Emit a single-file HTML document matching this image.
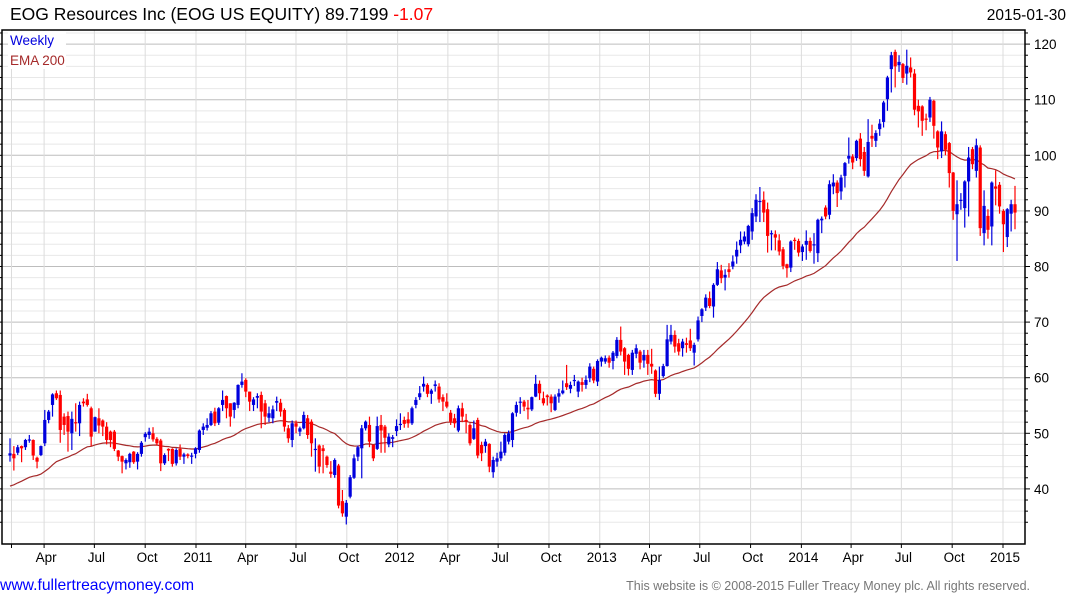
<!DOCTYPE html>
<html><head><meta charset="utf-8"><style>
html,body{margin:0;padding:0;background:#fff;}
svg{display:block;font-family:"Liberation Sans",Arial,sans-serif;}
</style></head><body>
<svg id="chart" width="1075" height="600" viewBox="0 0 1075 600" xmlns="http://www.w3.org/2000/svg">
<rect x="0" y="0" width="1075" height="600" fill="#fff"/>
<g id="grid"></g><g id="ema"></g><g id="candles"></g><g id="axes"></g>
<text x="10" y="20" font-size="17.5" fill="#000">EOG Resources Inc (EOG US EQUITY) 89.7199 <tspan fill="#f00">-1.07</tspan></text>
<text x="1066" y="20" font-size="15.5" text-anchor="end" fill="#000">2015-01-30</text>
<rect x="8" y="31" width="58" height="38" fill="#fff"/>
<text x="10" y="45" font-size="13.5" fill="#0000dd">Weekly</text>
<text x="10" y="65" font-size="13.5" fill="#a52a2a">EMA 200</text>
<text x="0" y="590" font-size="15.7" fill="#0000ff">www.fullertreacymoney.com</text>
<text x="1030" y="590" font-size="12.5" text-anchor="end" fill="#777">This website is © 2008-2015 Fuller Treacy Money plc. All rights reserved.</text>
</svg>
<script>
const opens=[46.0,46.3,46.5,47.7,47.5,48.7,48.8,45.6,46.1,48.2,52.4,55.1,57.2,56.9,53.0,53.1,50.0,52.0,51.8,55.7,56.1,54.5,50.3,52.7,52.3,51.2,50.3,50.3,46.9,45.9,44.6,44.8,46.7,44.9,46.3,49.3,49.7,50.0,49.0,48.7,44.6,47.2,47.2,44.6,47.2,45.8,46.2,45.8,46.3,47.0,
50.6,51.0,51.5,53.9,51.9,55.1,56.7,55.4,54.2,55.1,58.7,59.6,57.5,55.1,56.4,56.9,55.4,52.8,52.7,55.5,55.5,54.2,50.9,48.8,51.8,50.3,50.9,52.7,52.1,47.0,47.8,47.3,45.8,43.1,42.5,44.2,37.8,35.0,38.6,42.0,45.8,47.3,50.9,51.5,47.9,47.2,51.5,51.2,48.0,
49.0,50.4,51.5,52.4,52.5,51.8,55.1,56.5,58.4,58.7,57.1,58.5,58.4,56.5,55.7,53.7,52.7,50.5,54.5,52.4,51.5,49.0,52.4,47.9,47.7,48.1,43.0,44.9,45.5,46.5,48.5,48.8,53.7,55.5,55.7,54.6,54.3,56.6,58.9,56.3,56.8,56.6,54.2,56.6,57.2,59.0,58.0,59.4,57.5,
59.2,58.7,59.9,61.6,59.3,62.9,62.9,63.6,63.0,63.9,66.8,65.3,64.1,61.4,64.3,64.7,63.1,64.1,62.5,61.3,57.1,60.3,62.1,66.5,67.7,66.2,65.3,66.2,66.7,64.5,66.9,71.1,72.6,74.3,72.8,76.7,79.3,78.0,79.5,80.0,81.8,
83.8,84.5,84.0,86.3,89.0,91.6,92.0,90.3,85.8,85.8,84.7,83.1,80.4,79.8,84.8,84.6,82.6,83.9,84.6,84.0,82.4,88.3,90.6,89.3,94.4,95.1,93.5,96.3,99.4,99.8,99.5,103.0,100.6,96.2,103.5,102.6,104.7,106.0,110.1,
115.5,118.6,116.2,116.4,114.7,115.8,114.7,108.9,108.8,106.6,106.8,109.8,104.3,100.7,103.8,102.2,96.9,89.4,91.8,90.5,95.3,101.1,97.2,101.4,86.0,89.1,87.2,94.4,94.7,90.0,85.3,89.5,91.2];
const highs=[49.1,47.7,47.9,47.8,49.0,49.7,48.9,45.8,47.8,54.2,54.2,57.2,57.7,57.7,53.6,53.9,53.9,55.4,55.7,56.3,57.1,54.8,53.0,54.5,52.5,52.0,50.5,50.6,47.0,46.0,45.5,46.5,46.8,46.6,48.6,50.2,51.0,51.1,49.3,49.0,46.4,47.3,47.3,47.3,48.0,46.5,46.4,46.5,47.5,50.7,
51.8,52.7,54.0,54.6,54.7,57.7,56.8,55.4,55.6,58.8,60.8,59.9,57.5,56.5,57.2,57.5,56.0,54.8,55.0,56.6,56.2,54.5,51.5,52.3,52.3,51.2,53.9,53.3,52.5,49.1,48.0,47.9,46.0,45.0,45.5,44.5,39.8,38.0,42.5,46.2,47.8,51.5,52.3,53.0,48.0,53.0,53.3,51.5,50.0,
49.7,52.5,53.6,53.0,53.8,54.8,56.5,58.5,60.2,59.0,58.0,59.5,59.0,57.0,57.2,54.2,53.5,55.0,55.5,53.5,51.8,52.3,52.8,48.5,49.0,48.2,45.8,46.5,48.5,50.0,50.5,53.8,55.7,56.5,56.0,56.0,56.6,60.5,59.5,57.5,57.0,57.0,57.0,58.0,59.5,62.3,59.3,60.5,59.5,
60.0,60.4,62.6,62.0,63.3,63.8,64.0,64.0,64.8,67.3,69.2,65.5,64.3,65.0,66.0,65.0,65.0,65.0,65.2,61.5,62.0,62.5,69.5,69.5,68.5,67.0,67.0,67.2,68.8,66.3,71.0,72.5,75.0,75.5,77.0,80.8,80.3,79.5,80.6,82.0,84.5,
86.3,86.3,87.5,90.5,93.0,94.3,93.5,91.5,86.5,86.5,85.8,83.5,80.5,84.7,85.2,85.0,84.0,86.5,85.2,86.0,88.6,89.0,91.0,95.5,96.6,95.5,96.5,98.8,103.2,100.2,102.8,104.0,101.5,106.5,105.5,104.5,106.5,109.8,114.3,
118.6,119.0,118.0,116.6,119.0,117.6,115.5,110.0,109.0,107.5,110.5,110.0,104.5,106.1,104.3,102.4,97.0,95.5,93.2,95.5,101.5,101.5,103.0,101.8,93.7,90.3,95.3,97.3,95.2,90.3,90.5,92.0,94.5];
const lows=[44.9,43.3,46.1,44.8,47.0,48.3,45.2,43.7,45.9,47.7,51.8,53.0,56.0,48.3,49.7,46.7,47.0,50.3,49.5,54.8,54.8,47.7,50.3,50.0,49.5,48.0,47.5,46.8,45.0,42.8,43.5,43.8,44.5,43.5,45.8,48.5,49.0,48.5,47.8,43.2,44.3,45.0,44.0,44.2,45.2,44.5,45.5,44.5,45.5,46.5,
49.7,50.5,51.3,51.3,51.5,54.0,52.7,51.2,52.7,54.5,58.2,56.5,54.0,54.0,54.5,50.9,51.5,52.0,51.8,54.0,53.0,50.3,48.3,47.5,50.0,49.5,50.7,49.0,45.8,43.1,42.8,42.8,43.8,42.0,42.0,36.5,35.0,33.6,38.3,41.8,45.0,41.9,50.5,47.5,45.0,47.0,46.5,46.5,47.5,
47.5,49.5,50.6,51.0,51.0,51.5,54.5,56.0,57.5,56.5,55.3,57.5,55.5,54.0,54.5,51.5,51.0,50.2,52.0,50.0,47.8,48.8,45.5,45.0,46.5,43.0,42.0,44.0,45.0,46.0,48.0,47.5,53.0,53.5,54.0,52.5,54.0,56.5,56.0,55.0,55.0,53.8,54.0,55.5,57.0,57.8,57.2,58.5,56.5,
57.5,58.0,59.2,59.0,58.5,62.0,62.5,61.8,61.5,63.5,64.0,60.5,60.4,60.5,63.5,61.5,61.8,60.5,60.7,56.5,56.0,60.0,62.0,66.0,64.5,64.0,63.8,64.5,64.8,62.2,66.5,70.0,72.0,72.5,70.8,76.5,77.0,75.7,78.0,79.5,80.5,
82.4,84.0,83.6,84.8,88.0,88.0,88.0,82.5,82.9,82.9,82.0,79.5,78.0,79.0,83.0,81.8,81.0,81.2,82.5,80.5,80.8,86.0,88.5,88.5,93.0,90.7,92.0,94.2,98.5,97.5,99.0,98.0,96.3,96.0,101.5,101.5,103.5,105.0,108.0,
111.3,112.2,115.0,113.0,112.7,114.0,107.2,105.0,103.5,104.5,106.0,103.0,99.3,99.5,100.0,94.2,88.4,81.0,90.2,87.0,89.0,97.5,96.0,85.5,83.8,85.0,83.8,91.0,89.5,82.6,83.5,86.3,86.7];
const closes=[46.4,45.5,47.5,47.3,48.8,48.9,46.0,44.9,47.7,52.4,53.9,57.0,56.3,50.6,51.5,50.3,52.6,51.8,55.1,55.4,55.1,49.4,52.9,51.4,51.2,48.8,48.8,47.2,45.8,44.9,45.2,46.3,44.8,46.3,48.3,49.9,50.3,48.9,48.2,44.6,46.1,46.9,44.5,47.0,45.8,46.2,45.9,46.0,47.3,50.5,
51.2,51.5,53.6,51.8,54.5,56.0,54.5,53.0,55.5,58.7,59.3,57.5,55.7,56.1,56.7,53.9,53.0,53.6,54.3,55.8,53.9,51.2,49.1,51.8,51.2,50.9,53.3,49.7,48.2,47.2,44.0,46.8,44.3,42.7,45.2,37.0,35.6,37.5,42.1,45.5,47.5,50.9,52.1,48.5,45.5,51.3,50.5,49.2,49.4,
49.3,51.3,51.7,51.7,51.8,54.5,56.0,57.2,58.9,57.1,57.7,58.8,56.1,55.7,54.8,52.1,51.8,54.5,53.0,52.1,48.2,50.9,46.0,46.4,48.5,44.0,45.2,45.5,46.7,49.7,50.0,53.6,55.1,55.7,54.8,54.3,56.5,58.9,57.2,55.4,56.5,55.4,56.6,57.2,57.7,58.3,58.7,59.6,59.3,
58.7,59.6,62.0,59.5,63.0,63.6,63.5,62.7,64.5,66.8,64.7,62.9,61.6,64.5,65.3,62.7,64.1,62.5,62.0,57.1,59.6,62.1,66.9,67.7,65.6,64.7,66.5,65.9,65.3,65.9,70.3,72.3,74.4,72.9,76.7,79.5,77.9,78.5,79.0,80.9,83.0,
84.8,85.4,87.3,89.6,92.0,91.8,89.7,85.5,86.0,85.2,82.7,80.1,79.7,84.5,84.6,82.5,83.6,84.6,82.8,84.0,88.4,88.6,89.0,94.8,95.1,93.2,96.0,98.6,99.9,98.7,102.6,99.3,97.2,102.4,103.0,104.0,105.7,109.5,114.0,
118.0,116.0,116.8,113.9,116.1,114.9,108.2,107.9,106.2,106.4,110.0,105.3,101.4,104.3,101.0,96.8,90.0,91.2,92.0,95.3,99.6,98.4,101.8,86.9,90.9,86.6,95.1,94.0,90.8,87.6,90.3,91.2,89.7];
const yTicks=[40,50,60,70,80,90,100,110,120];
const monthLabels=["2010","Apr","Jul","Oct"];
const emaStart=40.5;
const emaPeriodWeeks=40;

const NS="http://www.w3.org/2000/svg";
const L=2,R=1025,T=30,B=544;
const N=closes.length;
const xFirst=10,xLast=1015;
const step=(xLast-xFirst)/(N-1);
const t2011=Date.UTC(2011,0,1),t2015=Date.UTC(2015,0,1);
function xIdx(i){return xFirst+i*step;}
function xDate(t){return 196+(t-t2011)/(t2015-t2011)*(1003-196);}
function yVal(v){return 155.3-(v-100)*5.56;}
function mk(tag,attrs,parent){const e=document.createElementNS(NS,tag);for(const k in attrs)e.setAttribute(k,attrs[k]);parent.appendChild(e);return e;}

const grid=document.getElementById('grid');
for(let v=34;v<=122;v+=2){
  const y=yVal(v); if(y<T||y>B)continue;
  const major=v%10===0;
  const ln=mk('line',{x1:L,x2:R,y1:y,y2:y,stroke:major?'#bdbdbd':'#e8e8e8','stroke-width':1},grid);
  
  
}
const axes=document.getElementById('axes');
const vlines=[Date.UTC(2010,1,1)];
for(let yr=2010;yr<=2015;yr++)for(let m=0;m<12;m+=3)vlines.push(Date.UTC(yr,m,1));
vlines.forEach((t,k)=>{
  const x=xDate(t); if(x<L||x>R)return;
  const ln=mk('line',{x1:x,x2:x,y1:T,y2:B,stroke:'#dcdcdc','stroke-width':1},grid);
  
  
  const tk=mk('line',{x1:x,x2:x,y1:B,y2:B+4,stroke:'#000','stroke-width':1},axes);
  
  
  if(k===0)return;
  const d=new Date(t);const m=d.getUTCMonth();
  const lbl=m===0?String(d.getUTCFullYear()):monthLabels[m/3];
  const tx=mk('text',{x:x+2,y:562,'font-size':13.5,'text-anchor':'middle',fill:'#000'},axes);
  tx.textContent=lbl;
  
  
});
const fr=mk('path',{d:`M${L},${T}H${R}V${B}H${L}Z`,fill:'none',stroke:'#000','stroke-width':1.5},axes);


for(let v=34;v<=122;v+=2){
  const y=yVal(v); if(y<T||y>B)continue;
  const major=v%10===0;
  const tk=mk('line',{x1:R,x2:R+(major?5:3),y1:y,y2:y,stroke:'#000','stroke-width':1},axes);
  
  
  const tk2=mk('line',{x1:L-2,x2:L,y1:y,y2:y,stroke:'#000','stroke-width':1},axes);
  
  
}
yTicks.forEach(v=>{
  const tx=mk('text',{x:1034,y:yVal(v)+5,'font-size':13.5,fill:'#000'},axes);
  tx.textContent=String(v);
  
  
});
const emaG=document.getElementById('ema');
const alpha=2/(emaPeriodWeeks+1);
let e=emaStart;const pts=[];
for(let i=0;i<N;i++){e=i===0?emaStart:e+alpha*(closes[i]-e);pts.push(xIdx(i).toFixed(1)+','+yVal(e).toFixed(1));}
const pl=mk('polyline',{points:pts.join(' '),fill:'none',stroke:'#a52a2a','stroke-width':1.2},emaG);


const cg=document.getElementById('candles');
for(let i=0;i<N;i++){
  const x=xIdx(i),o=opens[i],c=closes[i],h=highs[i],l=lows[i];
  const col=c>=o?'#0000dd':'#ff0000';
  const g=mk('g',{},cg);
  
  
  mk('line',{x1:x,x2:x,y1:yVal(h),y2:yVal(l),stroke:col,'stroke-width':1.2},g);
  const yt=yVal(Math.max(o,c)),yb=yVal(Math.min(o,c));
  mk('rect',{x:x-1.6,y:yt,width:3.2,height:Math.max(1.2,yb-yt),fill:col},g);
}
</script>
</body></html>
